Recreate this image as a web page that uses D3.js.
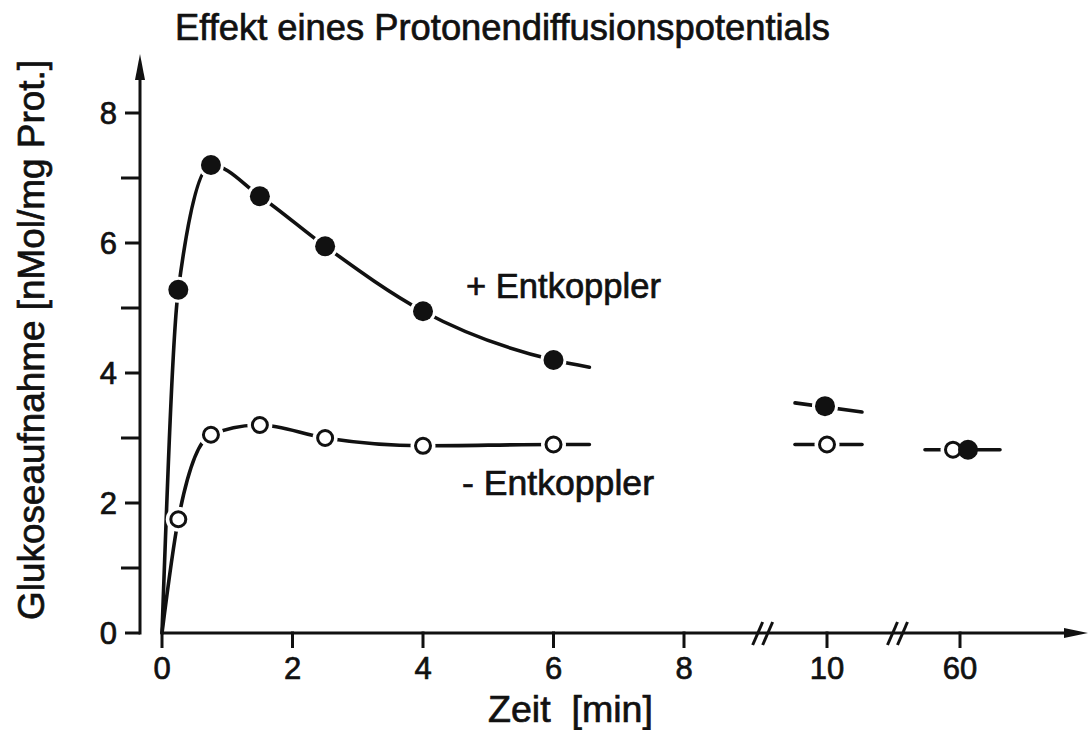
<!DOCTYPE html>
<html>
<head>
<meta charset="utf-8">
<script src="https://cdn.jsdelivr.net/npm/d3@7"></script>
<style>
  html, body { margin: 0; padding: 0; background: #fff; }
  svg { display: block; }
  text { font-family: "Liberation Sans", Arial, sans-serif; fill: #111; stroke: #111; stroke-width: 0.7px; }
</style>
</head>
<body>
<svg id="chart" width="1088" height="730"></svg>
<script>
// ---------- data ----------
const timesEarly = [0.25, 0.75, 1.5, 2.5, 4, 6];            // min
const withUncoupler = [5.28, 7.2, 6.72, 5.95, 4.95, 4.2];   // + Entkoppler
const withoutUncoupler = [1.75, 3.05, 3.2, 3.0, 2.88, 2.9]; // - Entkoppler
const tailTime = 6.55;
const tailWith = 4.09;
const tailWithout = 2.9;
const lateTimes = [10, 60];
const lateWith = [3.49, 2.82];
const lateWithout = [2.9, 2.82];
const lateWithBar10 = [3.54, 3.40]; // left / right end of the short bar at 10 min
const xTickValues = [0, 2, 4, 6, 8, 10, 60];
const yTickValues = [0, 1, 2, 3, 4, 5, 6, 7, 8];
const yTickLabels = ["0", "", "2", "", "4", "", "6", "", "8"];
const titleText = "Effekt eines Protonendiffusionspotentials";
const yTitle = "Glukoseaufnahme [nMol/mg Prot.]";
const xTitle = "Zeit\u00a0 [min]";
const labelWith = "+ Entkoppler";
const labelWithout = "- Entkoppler";

// ---------- setup ----------
const svg = d3.select("#chart");
const ink = "#111";
const x = d3.scaleLinear().domain([0, 8, 10, 60]).range([162, 684, 827, 960]);
const y = d3.scaleLinear().domain([0, 8]).range([633, 113]);
const yAxisX = 140;
const x0 = x(0), yBase = y(0);

function fitText(sel, width) {
  const fs = parseFloat(sel.attr("font-size"));
  const w = sel.node().getComputedTextLength();
  sel.attr("font-size", (fs * width / w).toFixed(2));
}

// ---------- y axis ----------
const gy = svg.append("g");
gy.append("line").attr("x1", yAxisX).attr("x2", yAxisX)
  .attr("y1", yBase + 1.5).attr("y2", 72)
  .attr("stroke", ink).attr("stroke-width", 3);
gy.append("path")
  .attr("d", `M${yAxisX},54 L${yAxisX - 5},80 L${yAxisX + 5},80 Z`)
  .attr("fill", ink);
gy.selectAll("line.tick").data(yTickValues).enter().append("line")
  .attr("class", "tick")
  .attr("x1", d => yAxisX - (d % 2 ? 19 : 15)).attr("x2", yAxisX)
  .attr("y1", d => y(d)).attr("y2", d => y(d))
  .attr("stroke", ink).attr("stroke-width", 3);
gy.selectAll("text.tl").data(yTickValues.filter((d, i) => yTickLabels[i] !== "")).enter()
  .append("text").attr("class", "tl")
  .attr("x", 117).attr("y", d => y(d) + 11)
  .attr("text-anchor", "end").attr("font-size", 31)
  .text(d => yTickLabels[yTickValues.indexOf(d)]);

// ---------- x axis ----------
const gx = svg.append("g");
gx.append("line").attr("x1", x0).attr("x2", 1070)
  .attr("y1", yBase).attr("y2", yBase)
  .attr("stroke", ink).attr("stroke-width", 3);
gx.append("path")
  .attr("d", `M1088,${yBase} L1064,${yBase - 5} L1064,${yBase + 5} Z`)
  .attr("fill", ink);
gx.selectAll("line.tick").data(xTickValues).enter().append("line")
  .attr("x1", d => x(d)).attr("x2", d => x(d))
  .attr("y1", yBase - 1.5).attr("y2", yBase + 15)
  .attr("stroke", ink).attr("stroke-width", 3);
gx.selectAll("text.tl").data(xTickValues).enter().append("text")
  .attr("x", d => x(d)).attr("y", yBase + 46)
  .attr("text-anchor", "middle").attr("font-size", 31)
  .text(d => d);

// axis breaks
const breakCenters = [x(8) + 0.55 * (x(10) - x(8)), x(10) + 0.53 * (x(60) - x(10))];
breakCenters.forEach(c => {
  [-5, 5].forEach(dx => {
    gx.append("line")
      .attr("x1", c + dx - 5).attr("y1", yBase + 12)
      .attr("x2", c + dx + 5).attr("y2", yBase - 11)
      .attr("stroke", ink).attr("stroke-width", 3);
  });
});

// ---------- curves ----------
const line = d3.line().x(d => x(d[0])).y(d => y(d[1])).curve(d3.curveMonotoneX);
const curveWith = [[0, 0]].concat(timesEarly.map((t, i) => [t, withUncoupler[i]]), [[tailTime, tailWith]]);
const curveWithout = [[0, 0]].concat(timesEarly.map((t, i) => [t, withoutUncoupler[i]]), [[tailTime, tailWithout]]);
const gc = svg.append("g").attr("fill", "none").attr("stroke", ink).attr("stroke-width", 3.6)
  .attr("stroke-linecap", "round");
gc.append("path").attr("d", line(curveWith));
gc.append("path").attr("d", line(curveWithout));

// short bars for late points
gc.append("line")
  .attr("x1", x(10) - 32).attr("x2", x(10) + 35)
  .attr("y1", y(lateWithBar10[0])).attr("y2", y(lateWithBar10[1]));
gc.append("line")
  .attr("x1", x(10) - 32).attr("x2", x(10) + 35)
  .attr("y1", y(lateWithout[0])).attr("y2", y(lateWithout[0]));
gc.append("line")
  .attr("x1", x(60) - 35).attr("x2", x(60) + 40)
  .attr("y1", y(lateWithout[1])).attr("y2", y(lateWithout[1]));

// ---------- markers ----------
const openPts = timesEarly.map((t, i) => ({ px: x(t), py: y(withoutUncoupler[i]) }))
  .concat(lateTimes.map((t, i) => ({ px: x(t) + (t === 60 ? -7 : 0), py: y(lateWithout[i]) })));
const filledPts = timesEarly.map((t, i) => ({ px: x(t), py: y(withUncoupler[i]) }))
  .concat(lateTimes.map((t, i) => ({ px: x(t) + (t === 60 ? 8 : -2), py: y(lateWith[i]) })));

const gm = svg.append("g");
// halos
gm.selectAll("circle.ho").data(openPts).enter().append("circle")
  .attr("cx", d => d.px).attr("cy", d => d.py).attr("r", 12.5).attr("fill", "#fff");
gm.selectAll("circle.hf").data(filledPts.slice(0, 7)).enter().append("circle")
  .attr("cx", d => d.px).attr("cy", d => d.py).attr("r", 13).attr("fill", "#fff");
gm.selectAll("circle.o").data(openPts).enter().append("circle")
  .attr("cx", d => d.px).attr("cy", d => d.py).attr("r", 7.5)
  .attr("fill", "#fff").attr("stroke", ink).attr("stroke-width", 3);
gm.selectAll("circle.f").data(filledPts).enter().append("circle")
  .attr("cx", d => d.px).attr("cy", d => d.py).attr("r", 10).attr("fill", ink);

// ---------- texts ----------
const tt = svg.append("text").attr("x", 175).attr("y", 40).attr("font-size", 30).text(titleText);
fitText(tt, 655);

const yt = svg.append("text")
  .attr("transform", "translate(44,340) rotate(-90)")
  .attr("text-anchor", "middle").attr("font-size", 30).text(yTitle);
fitText(yt, 560);

const xt = svg.append("text").attr("x", 488).attr("y", 722).attr("font-size", 28).text(xTitle);
fitText(xt, 165);

const l1 = svg.append("text").attr("x", 466).attr("y", 298).attr("font-size", 32).text(labelWith);
fitText(l1, 195);
const l2 = svg.append("text").attr("x", 462).attr("y", 495).attr("font-size", 32).text(labelWithout);
fitText(l2, 192);
</script>
</body>
</html>
